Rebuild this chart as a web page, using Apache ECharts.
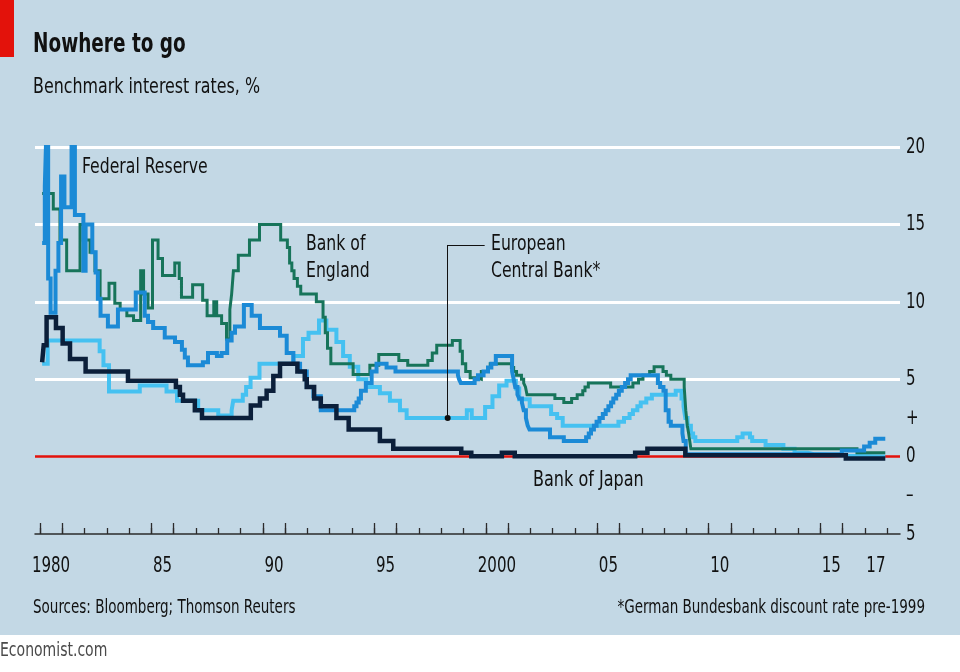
<!doctype html>
<html lang="en">
<head>
<meta charset="UTF-8">
<title>Nowhere to go</title>
<script src="https://cdn.jsdelivr.net/npm/echarts@6.0.0/dist/echarts.min.js"></script>
<style>
  html, body { margin: 0; padding: 0; background: #fff; }
  #main { width: 960px; height: 672px; }
</style>
</head>
<body>
<div id="main"></div>
<script>
// axis labels
var yearLabelPos = [1980.5, 1985.5, 1990.5, 1995.5, 2000.5, 2005.5, 2010.5, 2015.5, 2017.5];
var yearLabels   = ['1980', '85', '90', '95', '2000', '05', '10', '15', '17'];
var bigTickYears = [1980, 1981, 1985, 1986, 1990, 1991, 1995, 1996, 2000, 2001, 2005, 2006, 2010, 2011, 2015, 2016];
var rateLabelPos = [-5, -2.5, 0, 2.5, 5, 10, 15, 20];
var rateLabels   = ['5', '–', '0', '+', '5', '10', '15', '20'];
var gridValues   = [5, 10, 15, 20];

// Federal Reserve
var fedT = [1980.1, 1980.22, 1980.27, 1980.37, 1980.48, 1980.7, 1980.83, 1980.95, 1981.1, 1981.42, 1981.57,
  1981.95, 1982.05, 1982.35, 1982.5, 1982.6, 1982.72, 1983.05, 1983.5, 1984.3, 1984.7, 1984.85, 1985.08,
  1985.6, 1986.06, 1986.37, 1986.5, 1986.64, 1987.31, 1987.54, 1987.94, 1988.15, 1988.4, 1988.6, 1988.75,
  1989.15, 1989.5, 1989.87, 1990.77, 1991.07, 1991.37, 1991.67, 1991.97, 1992.27, 1992.6, 1994.1, 1994.2,
  1994.3, 1994.4, 1994.62, 1994.88, 1995.1, 1995.55, 1995.95, 1998.75, 1998.8, 1998.88, 1999.5, 1999.65,
  1999.9, 2000.1, 2000.25, 2000.45, 2001.18, 2001.25, 2001.32, 2001.42, 2001.5, 2001.62, 2001.7, 2001.8,
  2001.88, 2001.96, 2002.88, 2003.5, 2004.5, 2004.62, 2004.72, 2004.85, 2004.97, 2005.1, 2005.25, 2005.38,
  2005.5, 2005.62, 2005.72, 2005.85, 2005.97, 2006.1, 2006.25, 2006.38, 2006.5, 2007.72, 2007.82, 2007.97,
  2008.07, 2008.2, 2008.3, 2008.82, 2008.87, 2008.97, 2015.97, 2016.97, 2017.22, 2017.47, 2017.92];
var fedV = [13.8, 17.5, 20, 11.5, 9.3, 12, 13.8, 18.1, 16.1, 20, 15.6,
  12, 15, 13.2, 11.9, 10.2, 9.1, 8.4, 9.5, 10.6, 9.1, 8.7, 8.3,
  7.7, 7.4, 6.9, 6.4, 5.9, 6.1, 6.7, 6.5, 6.7, 7.5, 8, 8.4,
  9.8, 9.1, 8.3, 7.8, 6.7, 6, 5.5, 4.5, 3.9, 3, 3.25, 3.5,
  3.75, 4.25, 4.75, 5.5, 6, 5.75, 5.5, 5.25, 5, 4.75, 5, 5.25,
  5.5, 5.75, 6, 6.5, 5.5, 5, 4.5, 4, 3.75, 3.5, 3, 2.5,
  2, 1.75, 1.25, 1, 1.25, 1.5, 1.75, 2, 2.25, 2.5, 2.75, 3,
  3.25, 3.5, 3.75, 4, 4.25, 4.5, 4.75, 5, 5.25, 4.75, 4.5, 4.25,
  3, 2.25, 2, 1.5, 1, 0.15, 0.4, 0.65, 0.9, 1.15, 1.15];

// Bank of England
var boeT = [1980.1, 1980.6, 1980.9, 1981.2, 1981.8, 1981.95, 1982.25, 1982.47, 1982.7, 1983.1, 1983.36,
  1983.6, 1983.9, 1984.2, 1984.52, 1984.65, 1984.85, 1985.05, 1985.3, 1985.5, 1986.05, 1986.25, 1986.35,
  1986.85, 1987.3, 1987.5, 1987.8, 1987.93, 1988.15, 1988.37, 1988.52, 1988.6, 1988.68, 1988.9, 1989.4,
  1989.85, 1990.8, 1991.1, 1991.2, 1991.3, 1991.4, 1991.55, 1991.7, 1992.4, 1992.7, 1992.8, 1992.9,
  1993.05, 1994.05, 1994.8, 1995.2, 1996.1, 1996.5, 1997.4, 1997.6, 1997.8, 1998.5, 1998.85, 1998.95,
  1999.1, 1999.3, 1999.55, 1999.8, 2000.1, 2000.2, 2001.15, 2001.25, 2001.38, 2001.6, 2001.7, 2001.78,
  2001.85, 2003.1, 2003.5, 2003.85, 2004.1, 2004.35, 2004.45, 2004.6, 2005.6, 2006.6, 2006.85, 2007.05,
  2007.35, 2007.55, 2007.95, 2008.1, 2008.3, 2008.9, 2008.97, 2009.04, 2009.1, 2009.15, 2009.2, 2016.65,
  2017.92];
var boeV = [17, 16, 14, 12, 15, 14, 13.2, 12, 10.2, 11.2, 9.9,
  9.5, 9.1, 8.8, 12, 10.5, 9.6, 14, 12.8, 11.7, 12.5, 11.5, 10.3,
  11.1, 10.1, 9.1, 10, 9.1, 8.6, 7.6, 9.5, 10.5, 12, 13, 14,
  15, 14, 13.5, 12.5, 12, 11.5, 11, 10.5, 10, 9, 8, 7,
  6, 5.3, 5.9, 6.6, 6.2, 5.9, 6.2, 6.7, 7.2, 7.5, 6.8, 6,
  5.5, 5.1, 5, 5.5, 5.75, 6, 5.75, 5.5, 5.25, 5, 4.75, 4.5,
  4, 3.75, 3.5, 3.75, 4, 4.25, 4.5, 4.75, 4.5, 4.75, 5, 5.25,
  5.5, 5.8, 5.5, 5.25, 5, 4.5, 3, 2, 1.5, 1, 0.5, 0.25,
  0.25];

// European Central Bank (Bundesbank discount rate pre-1999)
var ecbT = [1980.1, 1980.35, 1982.68, 1982.85, 1983.1, 1984.48, 1985.68, 1986.15, 1987.1, 1988.0, 1988.6,
  1988.67, 1989.1, 1989.25, 1989.45, 1989.85, 1991.37, 1991.8, 1992.05, 1992.52, 1992.85, 1993.3, 1993.6,
  1993.9, 1994.28, 1994.65, 1995.25, 1995.7, 1996.15, 1996.45, 1999.15, 1999.37, 1999.97, 2000.3, 2000.6,
  2000.93, 2001.35, 2001.5, 2001.97, 2002.93, 2003.2, 2003.45, 2005.95, 2006.2, 2006.45, 2006.6, 2006.8,
  2006.95, 2007.2, 2007.45, 2008.52, 2008.78, 2008.87, 2008.95, 2009.05, 2009.2, 2009.3, 2009.4, 2011.28,
  2011.52, 2011.85, 2011.95, 2012.55, 2013.35, 2013.85, 2014.45, 2014.7, 2016.2, 2017.92];
var ecbV = [6, 7.5, 6.8, 5.9, 4.2, 4.6, 4.2, 3.6, 3, 2.65, 3,
  3.6, 4, 4.5, 5.1, 6, 6.5, 7.6, 8, 8.8, 8.2, 7.4, 6.5,
  5.8, 5, 4.5, 4.1, 3.6, 3, 2.5, 3, 2.5, 3.2, 3.9, 4.6,
  4.9, 4.4, 3.7, 3.25, 2.75, 2.5, 2, 2.25, 2.5, 2.75, 3, 3.25,
  3.5, 3.75, 4, 4.25, 3.75, 3.25, 2.5, 2, 1.5, 1.25, 1, 1.25,
  1.5, 1.25, 1, 0.75, 0.5, 0.25, 0.15, 0.05, 0, 0];

// Bank of Japan
var bojT = [1980.1, 1980.17, 1980.3, 1980.72, 1981.02, 1981.35, 1982.05, 1983.95, 1986.1, 1986.28, 1986.42,
  1986.95, 1987.27, 1989.46, 1989.87, 1990.17, 1990.47, 1990.77, 1991.55, 1991.88, 1991.97, 1992.3, 1992.6,
  1993.3, 1993.85, 1995.25, 1995.85, 1998.9, 1999.35, 2000.72, 2001.3, 2006.7, 2007.25, 2008.95, 2016.15,
  2017.92];
var bojV = [6.1, 7.2, 9, 8.3, 7.3, 6.3, 5.5, 4.9, 4.5, 4, 3.6,
  3, 2.5, 3.3, 3.75, 4.25, 5.2, 6, 5.5, 5, 4.5, 3.75, 3.25,
  2.5, 1.75, 1, 0.5, 0.25, 0.02, 0.25, 0.02, 0.25, 0.5, 0.08, -0.12,
  -0.12];

var FONT = "'DejaVu Sans Condensed', 'DejaVu Sans', sans-serif";
var INK = '#111';

function pairs(t, v) {
  return t.map(function (x, i) { return [x, v[i]]; });
}

var yearTicks = [];
for (var y = 1980; y <= 2018; y++) yearTicks.push(y);

function lineSeries(name, t, v, color, width, z) {
  return {
    name: name,
    type: 'line',
    step: 'end',
    data: pairs(t, v),
    showSymbol: false,
    z: z,
    lineStyle: { color: color, width: width, join: 'miter' },
    animation: false
  };
}

// condensed text helper (the original face is a narrow one)
function label(text, x, y, size, sx, opts) {
  opts = opts || {};
  return {
    type: 'text', x: x, y: y, z: 100, scaleX: sx,
    style: {
      text: text,
      fill: opts.fill || INK,
      font: (opts.bold ? 'bold ' : '') + size + 'px ' + FONT,
      align: opts.align || 'left',
      verticalAlign: 'middle'
    }
  };
}

var chart = echarts.init(document.getElementById('main'));

var gridMarks = gridValues.map(function (g) {
  return { yAxis: g, lineStyle: { color: '#ffffff', width: 3, type: 'solid' } };
});
gridMarks.push({ yAxis: 0, lineStyle: { color: '#e3120b', width: 2.5, type: 'solid' } });

var ecb = lineSeries('European Central Bank', ecbT, ecbV, '#45c1f1', 4, 3);
ecb.markLine = {
  silent: true,
  z: 7,
  symbol: ['none', 'none'],
  label: { show: false },
  lineStyle: { color: '#111', width: 1, type: 'solid' },
  animation: false,
  data: [
    [{ coord: [1998.29, 2.5], symbol: 'circle', symbolSize: 6 }, { coord: [1998.29, 13.67] }],
    [{ coord: [1998.29, 13.67] }, { coord: [1999.95, 13.67] }]
  ]
};

var baseGraphics = [
  { type: 'rect', shape: { x: 0, y: 635, width: 960, height: 37 }, style: { fill: '#ffffff' }, z: 0 },
  { type: 'rect', shape: { x: 0, y: 0, width: 14, height: 57 }, style: { fill: '#e3120b' }, z: 0 },
  label('Nowhere to go', 33, 45, 27, 0.76, { bold: true }),
  label('Benchmark interest rates, %', 33, 88, 21, 0.84),
  label('Federal Reserve', 82, 168, 21, 0.83),
  label('Bank of', 306, 245, 21, 0.83),
  label('England', 306, 272, 21, 0.83),
  label('European', 491, 245, 21, 0.83),
  label('Central Bank*', 491, 272, 21, 0.83),
  label('Bank of Japan', 533, 481, 21, 0.85),
  label('Sources: Bloomberg; Thomson Reuters', 33, 608, 20, 0.75),
  label('*German Bundesbank discount rate pre-1999', 925, 608, 20, 0.75, { align: 'right' }),
  label('Economist.com', 0, 651, 19, 0.82, { fill: '#4a4a4a' })
];

chart.setOption({
  backgroundColor: '#c3d8e5',
  animation: false,
  grid: { left: 35, right: 60, top: 147, bottom: 138 },
  xAxis: [{
    type: 'value',
    min: 1979.78,
    max: 2018.58,
    splitLine: { show: false },
    axisLine: { show: true, onZero: false, lineStyle: { color: '#2b2b2b', width: 1.5 } },
    axisTick: { show: true, inside: true, length: 6, customValues: yearTicks,
      lineStyle: { color: '#2b2b2b', width: 1.3 } },
    axisLabel: { show: false }
  }, {
    type: 'value',
    position: 'bottom',
    min: 1979.78,
    max: 2018.58,
    splitLine: { show: false },
    axisLine: { show: false, onZero: false },
    axisTick: { show: true, inside: true, length: 11, customValues: bigTickYears,
      lineStyle: { color: '#2b2b2b', width: 1.3 } },
    axisLabel: { show: false }
  }],
  yAxis: {
    type: 'value',
    position: 'right',
    min: -5,
    max: 20,
    splitLine: { show: false },
    axisLine: { show: false },
    axisTick: { show: false },
    axisLabel: { show: false }
  },
  series: [
    {
      name: 'grid',
      type: 'line',
      data: [],
      z: 1,
      silent: true,
      markLine: {
        silent: true,
        z: 1,
        symbol: ['none', 'none'],
        label: { show: false },
        animation: false,
        data: gridMarks
      }
    },
    ecb,
    lineSeries('Bank of England', boeT, boeV, '#17745a', 3, 4),
    lineSeries('Federal Reserve', fedT, fedV, '#1b8ad6', 4, 5),
    lineSeries('Bank of Japan', bojT, bojV, '#0b1f3a', 4.5, 6)
  ],
  graphic: baseGraphics
});

// tick labels placed through the axes' own scales
var axisTexts = [];
yearLabelPos.forEach(function (p, i) {
  var px = chart.convertToPixel({ xAxisIndex: 0 }, p);
  axisTexts.push(label(yearLabels[i], px, 566, 22, 0.76, { align: 'center' }));
});
rateLabelPos.forEach(function (v, i) {
  var py = chart.convertToPixel({ yAxisIndex: 0 }, v);
  axisTexts.push(label(rateLabels[i], 906, py, 22, 0.76));
});
chart.setOption({ graphic: baseGraphics.concat(axisTexts) });
</script>
</body>
</html>
